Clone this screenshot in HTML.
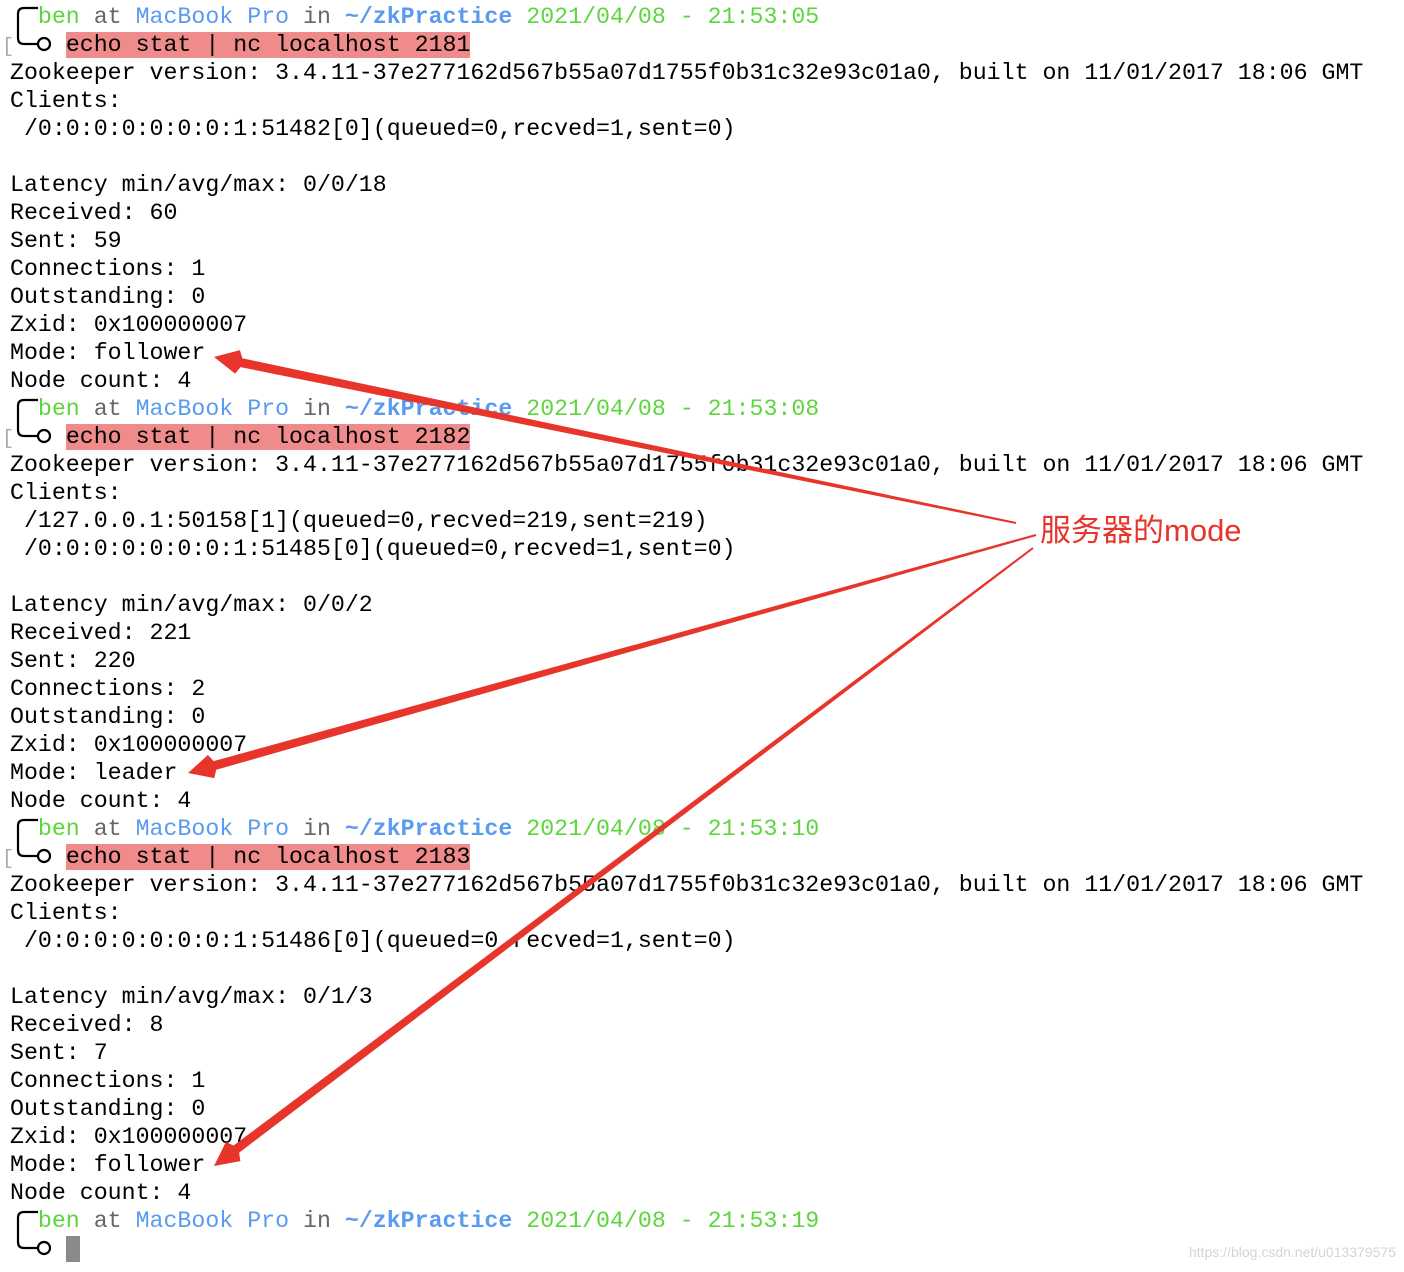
<!DOCTYPE html>
<html><head><meta charset="utf-8"><style>
html,body{margin:0;padding:0;background:#fff;}
body{width:1404px;height:1272px;position:relative;overflow:hidden;}
pre{position:absolute;left:10px;top:3px;margin:0;font-family:"Liberation Mono",monospace;font-size:23.25px;line-height:28px;color:#000;}
.g{color:#5dd63e}.b{color:#5a9bef}.bb{color:#5a9bef;font-weight:bold}.k{color:#666}
.h{background:#f08b8b}
.cur{background:#8a8a8a;color:#8a8a8a}
svg{position:absolute;left:0;top:0}
.lbl{position:absolute;left:1040px;top:511px;font-family:"Liberation Sans","Noto Sans CJK SC",sans-serif;font-size:31px;color:#e8352b;line-height:40px}
.wm{position:absolute;right:8px;top:1244px;font-family:"Liberation Sans",sans-serif;font-size:14px;color:#d4d4d4}
</style></head><body>
<pre>  <span class="g">ben</span> <span class="k">at</span> <span class="b">MacBook Pro</span> <span class="k">in</span> <span class="bb">~/zkPractice</span> <span class="g">2021/04/08 - 21:53:05</span>
    <span class="h">echo stat | nc localhost 2181</span>
Zookeeper version: 3.4.11-37e277162d567b55a07d1755f0b31c32e93c01a0, built on 11/01/2017 18:06 GMT
Clients:
 /0:0:0:0:0:0:0:1:51482[0](queued=0,recved=1,sent=0)

Latency min/avg/max: 0/0/18
Received: 60
Sent: 59
Connections: 1
Outstanding: 0
Zxid: 0x100000007
Mode: follower
Node count: 4
  <span class="g">ben</span> <span class="k">at</span> <span class="b">MacBook Pro</span> <span class="k">in</span> <span class="bb">~/zkPractice</span> <span class="g">2021/04/08 - 21:53:08</span>
    <span class="h">echo stat | nc localhost 2182</span>
Zookeeper version: 3.4.11-37e277162d567b55a07d1755f0b31c32e93c01a0, built on 11/01/2017 18:06 GMT
Clients:
 /127.0.0.1:50158[1](queued=0,recved=219,sent=219)
 /0:0:0:0:0:0:0:1:51485[0](queued=0,recved=1,sent=0)

Latency min/avg/max: 0/0/2
Received: 221
Sent: 220
Connections: 2
Outstanding: 0
Zxid: 0x100000007
Mode: leader
Node count: 4
  <span class="g">ben</span> <span class="k">at</span> <span class="b">MacBook Pro</span> <span class="k">in</span> <span class="bb">~/zkPractice</span> <span class="g">2021/04/08 - 21:53:10</span>
    <span class="h">echo stat | nc localhost 2183</span>
Zookeeper version: 3.4.11-37e277162d567b55a07d1755f0b31c32e93c01a0, built on 11/01/2017 18:06 GMT
Clients:
 /0:0:0:0:0:0:0:1:51486[0](queued=0,recved=1,sent=0)

Latency min/avg/max: 0/1/3
Received: 8
Sent: 7
Connections: 1
Outstanding: 0
Zxid: 0x100000007
Mode: follower
Node count: 4
  <span class="g">ben</span> <span class="k">at</span> <span class="b">MacBook Pro</span> <span class="k">in</span> <span class="bb">~/zkPractice</span> <span class="g">2021/04/08 - 21:53:19</span>
    <span class="cur">_</span></pre>
<svg width="1404" height="1272" id="s">
<g fill="none" stroke="#000" stroke-width="2.2">
<path d="M38 8 H24 Q18 8 18 14 V38 Q18 44 24 44 H38"/><circle cx="44" cy="44" r="6" fill="#fff"/>
<path d="M38 400 H24 Q18 400 18 406 V430 Q18 436 24 436 H38"/><circle cx="44" cy="436" r="6" fill="#fff"/>
<path d="M38 820 H24 Q18 820 18 826 V850 Q18 856 24 856 H38"/><circle cx="44" cy="856" r="6" fill="#fff"/>
<path d="M38 1212 H24 Q18 1212 18 1218 V1242 Q18 1248 24 1248 H38"/><circle cx="44" cy="1248" r="6" fill="#fff"/>
</g>
<g fill="#aaa" font-family="Liberation Mono" font-size="20"><text x="2" y="52">[</text><text x="2" y="444">[</text><text x="2" y="864">[</text></g>
</svg>
<div class="lbl">服务器的mode</div>
<div class="wm">https://blog.csdn.net/u013379575</div>
<script>
var s=document.getElementById('s');
function arrow(x0,y0,x1,y1,w0,w1){
 var dx=x1-x0,dy=y1-y0,L=Math.hypot(dx,dy),ux=dx/L,uy=dy/L,nx=-uy,ny=ux;
 var hl=28,hw=12;
 var bx=x1-ux*hl,by=y1-uy*hl;
 var p=[[x0+nx*w0/2,y0+ny*w0/2],[bx+nx*w1/2,by+ny*w1/2],[bx+nx*hw+ux*4,by+ny*hw+uy*4],[x1,y1],[bx-nx*hw+ux*4,by-ny*hw+uy*4],[bx-nx*w1/2,by-ny*w1/2],[x0-nx*w0/2,y0-ny*w0/2]];
 var e=document.createElementNS('http://www.w3.org/2000/svg','polygon');
 e.setAttribute('points',p.map(function(q){return q[0].toFixed(1)+','+q[1].toFixed(1)}).join(' '));
 e.setAttribute('fill','#e8352b');s.appendChild(e);
}
arrow(1016,523,214,357,2,9);
arrow(1036,535,188,773,2,9);
arrow(1033,548,214,1166,2,9);
</script>
</body></html>
